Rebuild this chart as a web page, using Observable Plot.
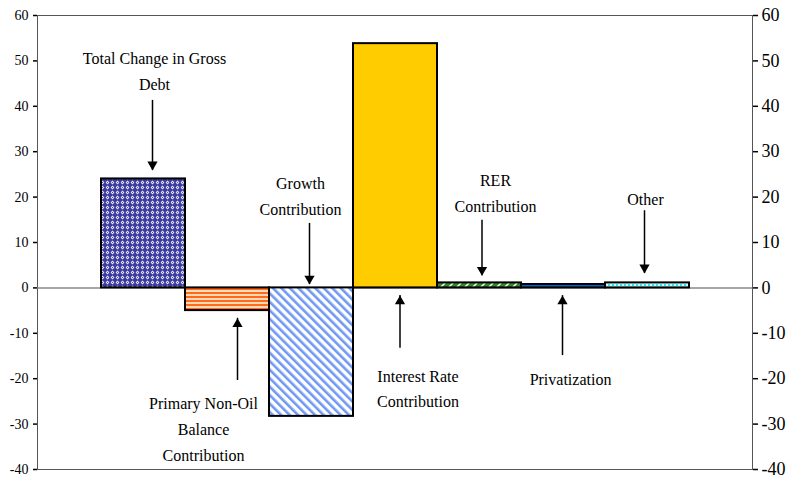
<!DOCTYPE html>
<html>
<head>
<meta charset="utf-8">
<script src="https://cdn.jsdelivr.net/npm/d3@7"></script>
<script src="https://cdn.jsdelivr.net/npm/@observablehq/plot@0.6"></script>
<style>
  html, body { margin: 0; padding: 0; background: #fff; }
  #chart svg { display: block; font-family: 'Liberation Serif', 'Times New Roman', Times, serif !important; }
  #chart svg text { font-family: 'Liberation Serif', 'Times New Roman', Times, serif !important; }
</style>
</head>
<body>
<div id="chart"></div>
<script>
// ---- data ----
const categories = ["Total Change in Gross Debt", "Primary Non-Oil Balance Contribution", "Growth Contribution",
  "Interest Rate Contribution", "RER Contribution", "Privatization", "Other"];
const values = [24, -5.0, -28.3, 53.8, 1.1, 0.75, 1.1];
const fills = ["url(#pTotal)", "url(#pPrimary)", "url(#pGrowth)", "#FFCC00", "url(#pRER)", "#0066CC", "url(#pOther)"];
const tickValues = [-40, -30, -20, -10, 0, 10, 20, 30, 40, 50, 60];

// annotation texts and arrows (in data units)
const annLabels = ["Total Change in Gross\nDebt", "Primary Non-Oil\nBalance\nContribution", "Growth\nContribution",
  "Interest Rate\nContribution", "RER\nContribution", "Privatization", "Other"];
const annTextY = [50.8, -25.2, 23.3, -19.1, 24, -19.7, 19.8];
const annArrowBase = [41.3, -20.4, 14.2, -13.3, 14.9, -14.9, 17];
const annArrowTip = [25.9, -6.7, 0.75, -1.7, 2.7, -1.7, 3.2];
const annTextDx = [11, -24, -11, 22.5, 16, 7, -2];
const annArrowDx = [9, 10, -2, 4.5, 2.5, -1, -3];

const bars = categories.map((c, i) => ({cat: c, value: values[i], fill: fills[i]}));
const ann = categories.map((c, i) => ({
  cat: c, label: annLabels[i], ty: annTextY[i], base: annArrowBase[i], tip: annArrowTip[i],
  tdx: annTextDx[i], adx: annArrowDx[i], down: annArrowTip[i] < annArrowBase[i]
}));

const FONT = "'Liberation Serif', 'Times New Roman', Times, serif";
const FS = 16;
const fmt = d => String(d);

(function () {
  const container = document.getElementById("chart");
  const marks = [
    Plot.frame({stroke: "#555", strokeWidth: 1}),
    Plot.ruleY([0], {stroke: "#888", strokeWidth: 1.5}),
    Plot.barY(bars, {x: "cat", y: "value", fill: "fill", stroke: "#000", strokeWidth: 2}),
    Plot.axisY({anchor: "left", ticks: tickValues, tickFormat: fmt, tickSize: 4, tickPadding: 5, fontSize: 14, fontFamily: FONT,
      line: true, strokeWidth: 1.5, stroke: "#000", fill: "#000"}),
    Plot.axisY({anchor: "right", ticks: tickValues, tickFormat: fmt, tickSize: 5, tickPadding: 4, fontSize: 18, fontFamily: FONT,
      line: true, strokeWidth: 1.5, stroke: "#000", fill: "#000"})
  ];
  ann.forEach(a => {
    marks.push(Plot.ruleX([a], {x: "cat", y1: "base", y2: "tip", dx: a.adx, stroke: "#000", strokeWidth: 1.5}));
    marks.push(Plot.dot([a], {x: "cat", y: "tip", dx: a.adx, dy: a.down ? -5.8 : 5.8, symbol: "triangle", r: 3.8,
      rotate: a.down ? 180 : 0, fill: "#000", stroke: "none"}));
    marks.push(Plot.text([a], {x: "cat", y: "ty", text: "label", dx: a.tdx, dy: -11, fontSize: FS, fontFamily: FONT,
      lineHeight: 1.6, lineAnchor: "top", fill: "#000"}));
  });
  const svg = Plot.plot({
    width: 791, height: 478,
    marginLeft: 37, marginRight: 39, marginTop: 15, marginBottom: 9,
    style: `font-family: ${FONT}; color: #000; background: #fff;`,
    x: {domain: categories, paddingInner: 0, paddingOuter: 0.75, axis: null},
    y: {domain: [-40, 60], axis: null},
    marks
  });
  const defs = d3.select(svg).insert("defs", ":first-child");
  // navy lattice
  let p = defs.append("pattern").attr("id", "pTotal").attr("width", 5).attr("height", 5).attr("patternUnits", "userSpaceOnUse");
  p.append("rect").attr("width", 5).attr("height", 5).attr("fill", "#3c3ca0");
  p.append("path").attr("d", "M2.5 0.6 L4.4 2.5 L2.5 4.4 L0.6 2.5 Z").attr("fill", "#e6e6fa");
  p.append("rect").attr("x", 2).attr("y", 2).attr("width", 1).attr("height", 1).attr("fill", "#5050b0");
  // orange horizontal stripes
  p = defs.append("pattern").attr("id", "pPrimary").attr("width", 4).attr("height", 4).attr("patternUnits", "userSpaceOnUse");
  p.append("rect").attr("width", 4).attr("height", 4).attr("fill", "#ffd9b8");
  p.append("rect").attr("y", 0).attr("width", 4).attr("height", 2).attr("fill", "#ff6a1a");
  // blue diagonal stripes
  p = defs.append("pattern").attr("id", "pGrowth").attr("width", 6).attr("height", 6).attr("patternUnits", "userSpaceOnUse")
    .attr("patternTransform", "rotate(-45)");
  p.append("rect").attr("width", 6).attr("height", 6).attr("fill", "#ffffff");
  p.append("rect").attr("x", 0).attr("width", 2.6).attr("height", 6).attr("fill", "#6f98f5");
  // green with white dashes
  p = defs.append("pattern").attr("id", "pRER").attr("width", 8).attr("height", 6).attr("patternUnits", "userSpaceOnUse");
  p.append("rect").attr("width", 8).attr("height", 6).attr("fill", "#2e8b2e");
  p.append("path").attr("d", "M1 5 L5 1").attr("stroke", "#ffffff").attr("stroke-width", 1.6);
  // cyan dotted
  p = defs.append("pattern").attr("id", "pOther").attr("width", 4).attr("height", 4).attr("patternUnits", "userSpaceOnUse");
  p.append("rect").attr("width", 4).attr("height", 4).attr("fill", "#ccffff");
  p.append("rect").attr("x", 0).attr("y", 0).attr("width", 2).attr("height", 2).attr("fill", "#33e0f0");
  container.appendChild(svg);
})();
</script>
</body>
</html>
